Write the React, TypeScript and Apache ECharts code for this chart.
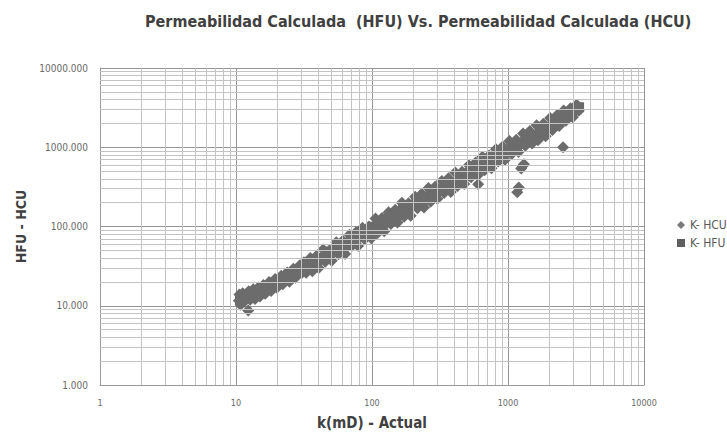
import React, { useEffect, useRef } from "react";
import * as echarts from "echarts";

const TITLE = "Permeabilidad Calculada  (HFU) Vs. Permeabilidad Calculada (HCU)";
const X_NAME = "k(mD) - Actual";
const Y_NAME = "HFU - HCU";
const SERIES_NAMES = ["K- HCU", "K- HFU"];
const DECADES = [1, 10, 100, 1000];
const MINOR_STEPS = [2, 3, 4, 5, 6, 7, 8, 9];

// K- HCU (diamonds) – estimated from the dense cloud
const HCU: [number, number][] = [
  [10.5, 11.6], [10.6, 13.9], [10.8, 10.3], [11.0, 12.7], [11.2, 14.4], [11.5, 11.2], [11.8, 13.3],
  [12.3, 8.7], [12.4, 15.2], [12.7, 11.9], [13.1, 13.8], [13.4, 16.1], [13.8, 12.2], [14.2, 14.9],
  [14.6, 17.0], [15.0, 13.1], [15.5, 15.4], [15.9, 18.3], [16.4, 14.2], [17.0, 16.8], [17.5, 19.9],
  [18.1, 15.3], [18.8, 18.6], [19.4, 21.8], [20.0, 16.9], [20.8, 19.2], [21.5, 23.9], [22.1, 18.7],
  [23.0, 22.4], [23.8, 26.3], [24.7, 20.1], [25.5, 23.1], [26.4, 29.4], [27.3, 22.6], [28.4, 26.9],
  [29.3, 32.1], [30.5, 25.9], [31.6, 35.4], [32.8, 26.1], [33.9, 31.7], [35.2, 40.1], [36.4, 27.3],
  [37.8, 36.3], [39.0, 42.5], [40.6, 30.0], [42.0, 37.4], [43.7, 51.1], [45.3, 35.8], [46.9, 42.7],
  [48.8, 50.3], [50.6, 36.9], [52.4, 46.6], [54.6, 63.3], [56.7, 44.8], [58.9, 57.1], [61.0, 65.9],
  [63.5, 45.1], [65.6, 55.1], [68.3, 78.5], [70.9, 56.7], [73.5, 68.4], [76.3, 84.7], [79.0, 56.9],
  [81.8, 74.4], [85.1, 96.2], [88.2, 68.8], [91.6, 79.7], [95.0, 99.8], [98.8, 71.1], [102.3, 90.0],
  [106.1, 126.3], [110.0, 82.5], [114.2, 108.5], [118.5, 128.0], [123.1, 87.4], [127.7, 108.5],
  [132.5, 151.0], [137.6, 107.3], [142.9, 130.0], [148.3, 163.1], [154.0, 112.4], [159.7, 146.9],
  [165.8, 199.0], [172.3, 132.7], [178.6, 155.4], [185.6, 196.7], [192.5, 136.7], [199.8, 181.8],
  [207.6, 236.7], [215.5, 170.2], [223.8, 212.6], [232.2, 259.9], [241.3, 173.7], [250.4, 215.3],
  [260.0, 306.8], [270.2, 205.4], [280.1, 257.7], [291.2, 317.4], [302.4, 223.8], [313.8, 279.3],
  [326.0, 374.9], [338.7, 264.2], [351.6, 330.5], [365.2, 405.4], [379.6, 273.3], [394.1, 342.9],
  [409.5, 479.1], [425.8, 323.6], [442.0, 402.2], [459.6, 491.8], [477.3, 343.7], [495.8, 441.3],
  [515.4, 592.7], [535.1, 417.4], [556.2, 517.3], [577.8, 641.4], [600.1, 444.1], [603.5, 342.0],
  [623.6, 536.3], [648.0, 758.2], [673.2, 511.6], [699.5, 640.0], [726.6, 784.7], [755.2, 543.7],
  [784.5, 698.2], [815.1, 945.5], [846.8, 660.5], [880.0, 818.4], [914.2, 1024], [950.0, 693.5],
  [986.8, 868.4], [1025, 1199], [1066, 821], [1107, 1018], [1150, 1242], [1195, 872], [1242, 1093],
  [1290, 1496], [1340, 1045], [1393, 1295], [1447, 1606], [1503, 1112], [1562, 1359], [1623, 1899],
  [1686, 1315], [1752, 1595], [1820, 1984], [1891, 1380], [1965, 1729], [2041, 2347], [2121, 1654],
  [2203, 2049], [2289, 2541], [2378, 1855], [2471, 2174], [2568, 2902], [2668, 2161], [2772, 2550],
  [2880, 3110], [2992, 2394], [3108, 2921], [3229, 3390], [3310, 2880], [3180, 3420],
  [2540, 1000], [1310, 610], [1250, 540], [1280, 580], [1200, 310], [1170, 270], [1660, 1230],
];

// K- HFU (squares) – mostly hidden under the diamonds
const HFU: [number, number][] = [
  [10.7, 12.0], [11.3, 12.4], [12.0, 12.6], [12.9, 14.1], [14.1, 14.0], [15.3, 16.4], [16.6, 16.2],
  [17.8, 18.1], [19.1, 19.6], [20.7, 20.5], [22.6, 21.2], [24.2, 24.7], [26.0, 24.4], [28.9, 27.6],
  [31.0, 30.9], [33.4, 30.1], [36.2, 32.4], [39.5, 38.4], [42.9, 40.1], [46.8, 43.9], [50.1, 48.2],
  [54.9, 50.6], [59.5, 52.8], [64.4, 61.9], [69.6, 64.0], [75.1, 70.3], [81.0, 77.2], [88.9, 81.5],
  [96.4, 85.7], [104.0, 99.3], [112.6, 102.4], [121.8, 114.2], [131.0, 124.6], [143.8, 129.7],
  [157.3, 139.0], [169.0, 161.4], [182.4, 166.3], [196.4, 183.1], [211.7, 203.0], [229.5, 207.1],
  [251.0, 224.6], [269.1, 256.4], [292.6, 264.0], [318.7, 296.2], [343.2, 327.9], [372.0, 336.5],
  [404.5, 362.8], [436.7, 417.0], [474.1, 428.2], [519.2, 474.0], [560.9, 535.6], [602.3, 547.3],
  [652.8, 590.1], [704.6, 672.8], [765.0, 690.4], [829.6, 768.3], [896.1, 855.2], [968.4, 873.0],
  [1061, 946], [1143, 1091], [1235, 1117], [1338, 1232], [1449, 1381], [1574, 1418], [1712, 1530],
  [1848, 1762], [2003, 1811], [2170, 1990], [2350, 2238], [2541, 2290], [2745, 2480], [2960, 2820],
  [3205, 3010], [3330, 3200],
];

const FONT = "'Liberation Sans Narrow', 'DejaVu Sans Condensed', Roboto, sans-serif";

export default function App() {
  const ref = useRef<HTMLDivElement>(null);
  useEffect(() => {
    if (!ref.current) return;
    const chart = echarts.init(ref.current, null, { renderer: "svg" });
    const minor: number[] = [];
    DECADES.forEach((d) => MINOR_STEPS.forEach((m) => minor.push(d * m)));
    const gridLines = [
      ...minor.map((v) => ({ xAxis: v })),
      ...minor.map((v) => ({ yAxis: v })),
    ];
    chart.setOption({
      animation: false,
      backgroundColor: "#ffffff",
      title: {
        text: TITLE,
        left: 140,
        top: 8,
        textStyle: { fontFamily: FONT, fontSize: 16, fontWeight: "bold", color: "#404040" },
      },
      legend: {
        orient: "vertical",
        left: 677,
        top: 219,
        itemWidth: 8,
        itemHeight: 8,
        itemGap: 6,
        padding: 0,
        textStyle: { fontFamily: FONT, fontSize: 12, color: "#595959" },
        data: [
          { name: SERIES_NAMES[0], icon: "diamond", itemStyle: { color: "#7a7a7a", opacity: 1 } },
          { name: SERIES_NAMES[1], icon: "rect", itemStyle: { color: "#5e5e5e", opacity: 1 } },
        ],
      },
      grid: { left: 100, right: 83, top: 68, bottom: 56, containLabel: false },
      xAxis: {
        type: "log",
        logBase: 10,
        min: 1,
        max: 10000,
        name: X_NAME,
        nameLocation: "middle",
        nameGap: 30,
        nameTextStyle: { fontFamily: FONT, fontSize: 15, fontWeight: "bold", color: "#404040" },
        axisLine: { show: true, lineStyle: { color: "#9a9a9a" } },
        axisTick: { show: false },
        axisLabel: { fontFamily: FONT, fontSize: 9, color: "#6a6a6a", margin: 13, formatter: (v: number) => String(v) },
        splitLine: { show: true, lineStyle: { color: "#959595", width: 1 } },
      },
      yAxis: {
        type: "log",
        logBase: 10,
        min: 1,
        max: 10000,
        name: Y_NAME,
        nameLocation: "middle",
        nameGap: 71,
        nameTextStyle: { fontFamily: FONT, fontSize: 14, fontWeight: "bold", color: "#404040" },
        axisLine: { show: true, lineStyle: { color: "#9a9a9a" } },
        axisTick: { show: false },
        axisLabel: { fontFamily: FONT, fontSize: 10, color: "#6a6a6a", margin: 12, formatter: (v: number) => v.toFixed(3) },
        splitLine: { show: true, lineStyle: { color: "#959595", width: 1 } },
      },
      series: [
        {
          name: "grid-minor",
          type: "scatter",
          data: [[1, 1]],
          symbolSize: 0,
          silent: true,
          z: 1,
          markLine: {
            silent: true,
            symbol: ["none", "none"],
            label: { show: false },
            lineStyle: { color: "#c4c4c4", width: 1, type: "solid" },
            data: gridLines,
          },
        },
        {
          name: SERIES_NAMES[1],
          type: "scatter",
          data: HFU,
          symbol: "rect",
          symbolSize: 10,
          itemStyle: { color: "#6a6a6a", opacity: 1 },
          z: 2,
        },
        {
          name: SERIES_NAMES[0],
          type: "scatter",
          data: HCU,
          symbol: "diamond",
          symbolSize: 12,
          itemStyle: { color: "#6c6c6c", opacity: 1 },
          z: 3,
        },
      ],
    });
    return () => chart.dispose();
  }, []);
  return (
    <div
      ref={ref}
      style={{ position: "fixed", left: 0, top: 0, width: 727, height: 441 }}
    />
  );
}
